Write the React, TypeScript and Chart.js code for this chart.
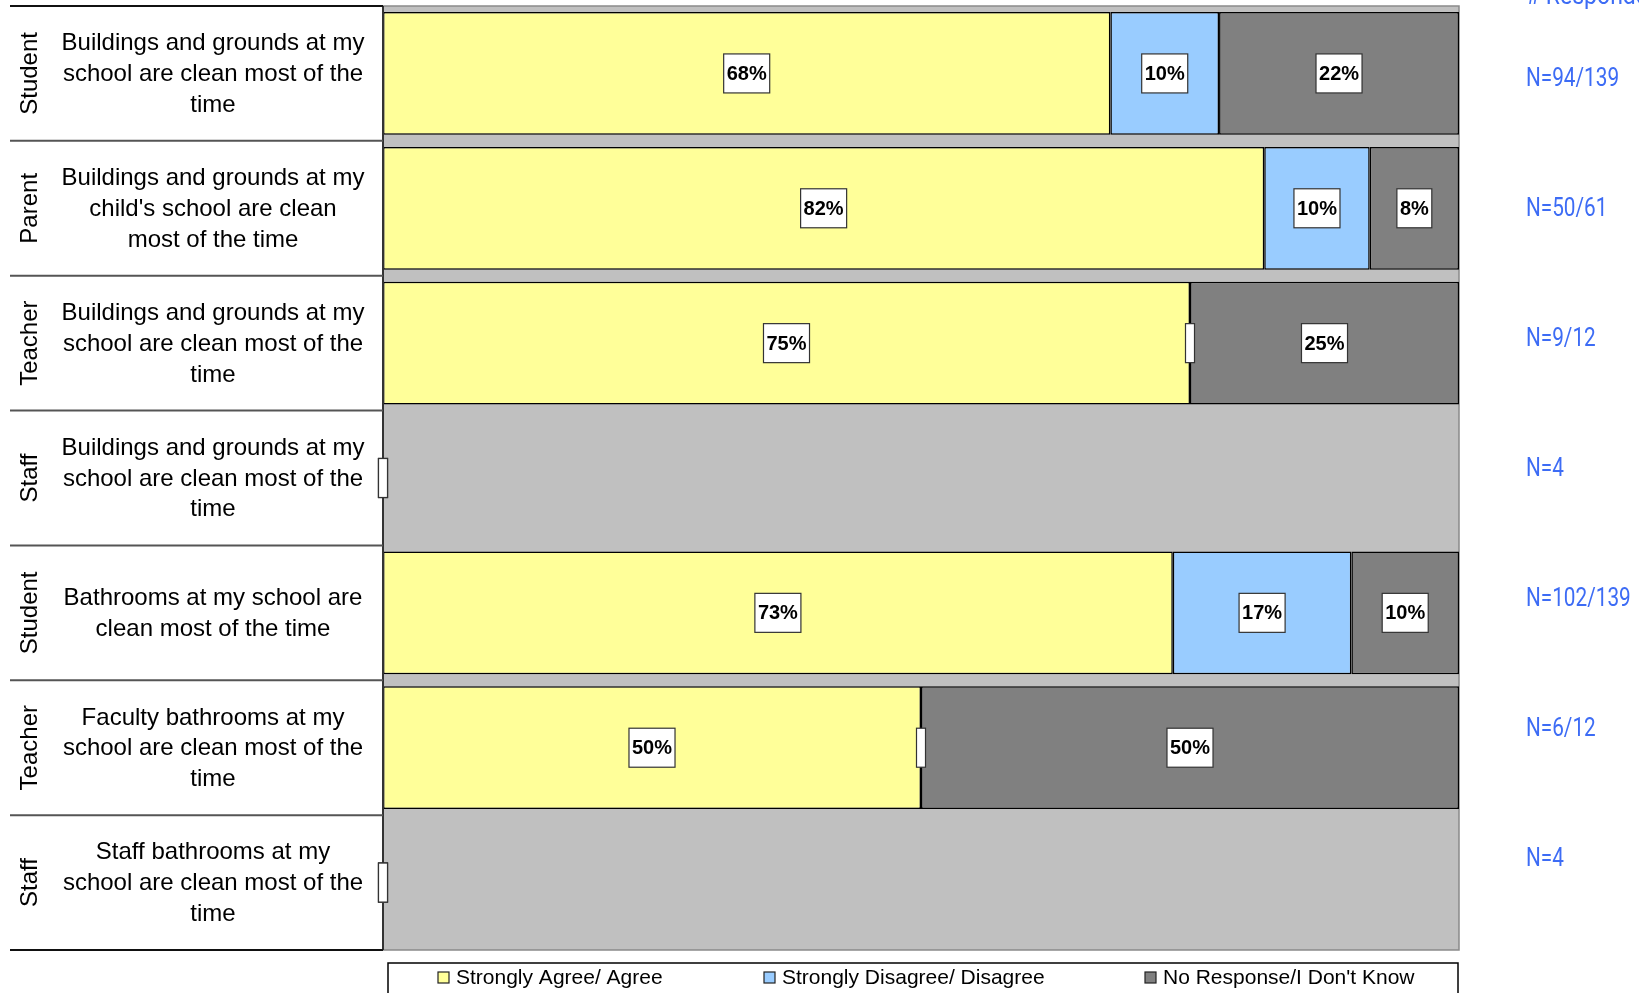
import React, { useEffect, useRef } from 'react';
import { Chart, registerables } from 'chart.js';

Chart.register(...registerables);

const groups = ['Student', 'Parent', 'Teacher', 'Staff', 'Student', 'Teacher', 'Staff'];
const questionLines = [
  ['Buildings and grounds at my', 'school are clean most of the', 'time'],
  ['Buildings and grounds at my', "child's school are clean", 'most of the time'],
  ['Buildings and grounds at my', 'school are clean most of the', 'time'],
  ['Buildings and grounds at my', 'school are clean most of the', 'time'],
  ['Bathrooms at my school are', 'clean most of the time'],
  ['Faculty bathrooms at my', 'school are clean most of the', 'time'],
  ['Staff bathrooms at my', 'school are clean most of the', 'time'],
];
const seriesNames = ['Strongly Agree/ Agree', 'Strongly Disagree/ Disagree', "No Response/I Don't Know"];
const agree = [67.6, 81.9, 75, 0, 73.4, 50, 0];
const disagree = [10.1, 9.8, 0, 0, 16.6, 0, 0];
const noResponse = [22.3, 8.3, 25, 0, 10, 50, 0];
const respondents = ['N=94/139', 'N=50/61', 'N=9/12', 'N=4', 'N=102/139', 'N=6/12', 'N=4'];
const respondentsHeader = '# Respondents';
const seriesColors = ['#FFFF99', '#99CCFF', '#808080'];

const FONT = '"Liberation Sans", Arial, sans-serif';
const NFONT = 'Roboto, "Noto Sans", sans-serif';
const BLUE = '#3d6cf5';

const decorPlugin = {
  id: 'decor',
  beforeDatasetsDraw(chart: any) {
    const { ctx, chartArea: a } = chart;
    ctx.save();
    ctx.fillStyle = '#C0C0C0';
    ctx.fillRect(a.left, a.top, a.right - a.left, a.bottom - a.top);
    ctx.strokeStyle = '#8a8a8a';
    ctx.lineWidth = 1.5;
    ctx.strokeRect(a.left, a.top, a.right - a.left, a.bottom - a.top);
    ctx.restore();
  },
  afterDatasetsDraw(chart: any) {
    const { ctx, chartArea: a } = chart;
    ctx.save();
    ctx.strokeStyle = '#333';
    ctx.lineWidth = 2;
    ctx.beginPath();
    ctx.moveTo(a.left, a.top);
    ctx.lineTo(a.left, a.bottom);
    ctx.stroke();
    ctx.font = `bold 20px ${FONT}`;
    ctx.textAlign = 'center';
    ctx.textBaseline = 'middle';
    chart.data.datasets.forEach((ds: any, di: number) => {
      const meta = chart.getDatasetMeta(di);
      meta.data.forEach((el: any, i: number) => {
        const v = ds.data[i];
        const cx = (el.x + el.base) / 2;
        const cy = el.y;
        const h = 39;
        let w = 9;
        let txt = '';
        if (v > 0) {
          txt = `${Math.round(v)}%`;
          w = ctx.measureText(txt).width + 6;
        }
        ctx.fillStyle = '#fff';
        ctx.fillRect(cx - w / 2, cy - h / 2, w, h);
        ctx.strokeStyle = '#333';
        ctx.lineWidth = 1.2;
        ctx.strokeRect(cx - w / 2, cy - h / 2, w, h);
        if (txt) {
          ctx.fillStyle = '#000';
          ctx.fillText(txt, cx, cy + 1);
        }
      });
    });
    ctx.restore();
  },
  afterDraw(chart: any) {
    const { ctx, chartArea: a } = chart;
    const n = groups.length;
    const rowH = (a.bottom - a.top) / n;
    ctx.save();
    for (let i = 0; i <= n; i++) {
      const y = a.top + i * rowH;
      ctx.strokeStyle = i === 0 || i === n ? '#111' : '#555';
      ctx.lineWidth = 2;
      ctx.beginPath();
      ctx.moveTo(10, y);
      ctx.lineTo(a.left, y);
      ctx.stroke();
    }
    ctx.fillStyle = '#000';
    ctx.textAlign = 'center';
    ctx.textBaseline = 'middle';
    for (let i = 0; i < n; i++) {
      const cy = a.top + (i + 0.5) * rowH;
      ctx.save();
      ctx.translate(30, cy);
      ctx.rotate(-Math.PI / 2);
      ctx.font = `24px ${FONT}`;
      ctx.fillText(groups[i], 0, 0);
      ctx.restore();
      const lines = questionLines[i];
      ctx.font = `24px ${FONT}`;
      lines.forEach((ln, j) => {
        ctx.fillText(ln, 213, cy + (j - (lines.length - 1) / 2) * 30.8 + 1);
      });
    }
    ctx.fillStyle = BLUE;
    ctx.textAlign = 'left';
    ctx.font = `25px ${NFONT}`;
    ctx.textBaseline = 'alphabetic';
    ctx.save();
    ctx.translate(a.right + 67, 4);
    ctx.scale(0.92, 1);
    ctx.fillText(respondentsHeader, 0, 0);
    ctx.restore();
    ctx.textBaseline = 'middle';
    const nStep = rowH * 0.964;
    respondents.forEach((t, i) => {
      ctx.save();
      ctx.translate(a.right + 67, a.top + 74 + i * nStep);
      ctx.scale(0.83, 1);
      ctx.fillText(t, 0, 0);
      ctx.restore();
    });
    const ly = a.bottom + 13;
    ctx.strokeStyle = '#000';
    ctx.lineWidth = 1.5;
    ctx.strokeRect(a.left + 5, ly, a.right - a.left - 6, 45);
    const itemX = [a.left + 55, a.left + 381, a.left + 762];
    ctx.font = `21px ${FONT}`;
    ctx.textBaseline = 'middle';
    ctx.textAlign = 'left';
    seriesNames.forEach((name, i) => {
      const x = itemX[i];
      const my = ly + 9;
      ctx.fillStyle = seriesColors[i];
      ctx.fillRect(x, my, 11, 11);
      ctx.strokeStyle = '#222';
      ctx.lineWidth = 1.2;
      ctx.strokeRect(x, my, 11, 11);
      ctx.fillStyle = '#000';
      ctx.fillText(name, x + 18, my + 6);
    });
    ctx.restore();
  },
};

export default function App() {
  const ref = useRef<HTMLCanvasElement>(null);
  useEffect(() => {
    if (!ref.current) return;
    const mk = (label: string, data: number[], color: string) => ({
      label,
      data,
      backgroundColor: color,
      borderColor: '#000',
      borderWidth: (c: any) => (c.raw > 0 ? 1.5 : 0),
      borderSkipped: false,
      barPercentage: 0.91,
      categoryPercentage: 1,
    });
    const chart = new Chart(ref.current, {
      type: 'bar',
      data: {
        labels: questionLines.map((l) => l.join(' ')),
        datasets: [
          mk(seriesNames[0], agree, seriesColors[0]),
          mk(seriesNames[1], disagree, seriesColors[1]),
          mk(seriesNames[2], noResponse, seriesColors[2]),
        ],
      },
      options: {
        indexAxis: 'y',
        responsive: false,
        animation: false,
        devicePixelRatio: 1,
        layout: { padding: { left: 383, right: 180, top: 6, bottom: 43 } },
        plugins: { legend: { display: false }, tooltip: { enabled: false } },
        scales: {
          x: { stacked: true, min: 0, max: 100, display: false },
          y: { stacked: true, display: false },
        },
      },
      plugins: [decorPlugin],
    } as any);
    return () => chart.destroy();
  }, []);
  return (
    <div style={{ position: 'absolute', left: 0, top: 0, width: 1639, height: 993, background: '#fff' }}>
      <canvas ref={ref} width={1639} height={993} style={{ display: 'block', width: 1639, height: 993 }} />
    </div>
  );
}
